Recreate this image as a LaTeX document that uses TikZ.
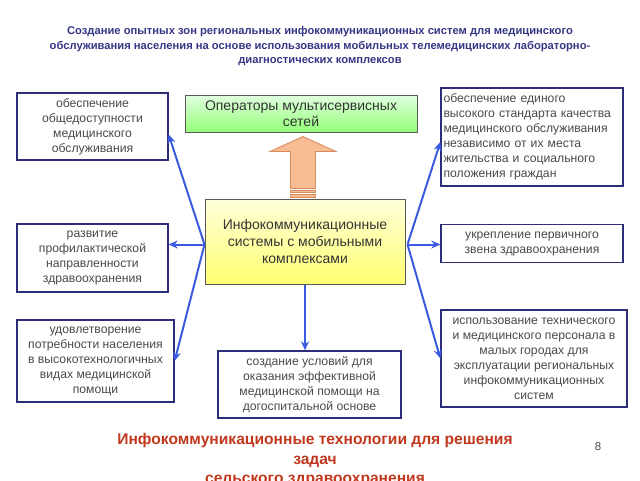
\documentclass[tikz,border=0pt]{standalone}
\usepackage{fontspec}
\setmainfont{Liberation Sans}
\usetikzlibrary{arrows.meta,calc}
\definecolor{navy}{HTML}{2E2E78}
\definecolor{txtgray}{HTML}{4A4A4A}
\definecolor{linkblue}{HTML}{3A5BE0}
\definecolor{titleblue}{HTML}{353585}
\definecolor{redtxt}{HTML}{C0381E}
\definecolor{arrfill}{HTML}{F8BC94}
\definecolor{arrline}{HTML}{D98A5A}
\tikzset{
  infobox/.style={draw=navy, line width=1.3pt, fill=white, text=txtgray, font=\fontsize{12.2}{15}\selectfont, align=center, inner sep=2pt},
  link/.style={draw=linkblue, line width=2pt, -{Stealth[length=9pt,width=8pt]}},
}
\begin{document}
\begin{tikzpicture}[x=1pt,y=-1pt]
\useasboundingbox (0,0) rectangle (640,480);
\clip (0,0) rectangle (640,480);
% title
\node[text=titleblue, font=\bfseries\fontsize{11.2}{14.5}\selectfont, align=center] (title) at (320,46.5)
 {Создание опытных зон региональных инфокоммуникационных систем для медицинского\\
  обслуживания населения на основе использования мобильных телемедицинских лабораторно-\\
  диагностических комплексов};
% boxes
\node[infobox, minimum width=151pt, minimum height=67pt] (L1) at (92.5,126.5)
 {обеспечение\\общедоступности\\медицинского\\обслуживания};
\node[infobox, minimum width=151pt, minimum height=68pt] (L2) at (92.5,258)
 {развитие\\профилактической\\направленности\\здравоохранения};
\node[infobox, minimum width=157pt, minimum height=82pt] (L3) at (95.5,361)
 {удовлетворение\\потребности населения\\в высокотехнологичных\\видах медицинской\\помощи};
\node[draw=gray!70!black, line width=1pt, top color=green!12!white, bottom color=green!45!white!85!lime,
  minimum width=232pt, minimum height=37pt, align=center, text=black!80,
  font=\fontsize{14}{16.5}\selectfont, inner sep=1pt] (ops) at (301,113.5)
 {Операторы мультисервисных\\сетей};
\node[draw=gray!70!black, line width=1pt, top color=yellow!15!white, bottom color=yellow!55!white,
  minimum width=200pt, minimum height=85pt, align=center, text=black!80,
  font=\fontsize{14}{17}\selectfont] (core) at (305,241.5)
 {Инфокоммуникационные\\системы с мобильными\\комплексами};
\node[infobox, align=left, minimum width=182pt, minimum height=98pt, text width=177pt] (R1) at (532,137)
 {обеспечение единого\\высокого стандарта качества\\медицинского обслуживания\\независимо от их места\\жительства и социального\\положения граждан};
\node[infobox, minimum width=182pt, minimum height=38pt] (R2) at (532,243.5)
 {укрепление первичного\\звена здравоохранения};
\node[infobox, minimum width=186pt, minimum height=97pt] (R3) at (534,358.5)
 {использование технического\\и медицинского персонала в\\малых городах для\\эксплуатации региональных\\инфокоммуникационных\\систем};
\node[infobox, minimum width=183pt, minimum height=67pt] (B) at (309.5,384.5)
 {создание условий для\\оказания эффективной\\медицинской помощи на\\догоспитальной основе};
% hollow up arrow
\coordinate (ab) at ($(core.north)+(-2,0)$);
\draw[draw=arrline, line width=0.8pt, fill=arrfill]
  ($(ab)+(-12.5,-10)$) -- ($(ab)+(-12.5,-47)$) -- ($(ab)+(-33,-47)$) -- ($(ab)+(0,-62)$)
  -- ($(ab)+(33,-47)$) -- ($(ab)+(12.5,-47)$) -- ($(ab)+(12.5,-10)$) -- cycle;
\draw[draw=arrline, line width=0.6pt, fill=arrfill]
  ($(ab)+(-12.5,-8.5)$) rectangle ($(ab)+(12.5,-6)$);
\draw[draw=arrline, line width=0.6pt, fill=arrfill]
  ($(ab)+(-12.5,-4.5)$) rectangle ($(ab)+(12.5,-1)$);
% connectors
\coordinate (fl) at ($(core.west)+(0,3)$);
\coordinate (fr) at ($(core.east)+(2,3)$);
\draw[link] (fl) -- ([yshift=-8pt]L1.east);
\draw[link] (fl) -- (fl -| L2.east);
\draw[link] (fl) -- (L3.east);
\draw[link] (fr) -- ([yshift=-5pt]R1.east -| R1.west);
\draw[link] (fr) -- (fr -| R2.west);
\draw[link] (fr) -- (R3.west);
\draw[link] (core.south) -- (core.south |- B.north);
% bottom red text
\node[text=redtxt, font=\bfseries\fontsize{15.6}{19.5}\selectfont, align=center] (foot) at (315,460)
 {Инфокоммуникационные технологии для решения\\задач\\сельского здравоохранения};
\node[text=txtgray, font=\fontsize{11.5}{13}\selectfont] (pg) at (598,447) {8};
\end{tikzpicture}
\end{document}
